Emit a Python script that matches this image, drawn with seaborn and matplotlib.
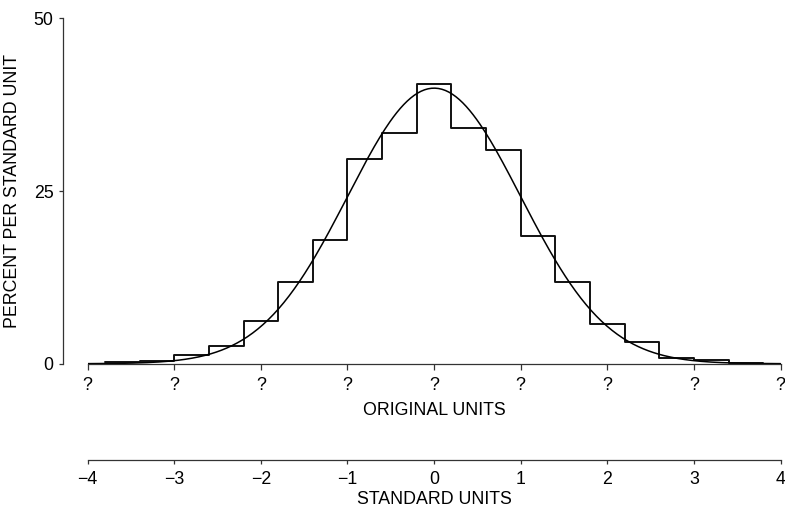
"""
Normal approximation to a histogram, drawn on two scales:
original units (unknown, shown as ?) and standard units.
"""
import numpy as np
import matplotlib
matplotlib.use("Agg")
import matplotlib.pyplot as plt
import seaborn as sns

sns.set_theme(style="white")
plt.rcParams["font.family"] = ["Liberation Sans", "DejaVu Sans"]
plt.rcParams["text.color"] = "black"
plt.rcParams["axes.labelcolor"] = "black"
plt.rcParams["xtick.color"] = "black"
plt.rcParams["ytick.color"] = "black"

FS = 12.8

# ---------- data ----------
bin_edges = [-3.8, -3.4, -3.0, -2.6, -2.2, -1.8, -1.4, -1.0, -0.6, -0.2,
             0.2, 0.6, 1.0, 1.4, 1.8, 2.2, 2.6, 3.0, 3.4, 3.8]
bin_centers = [-3.6, -3.2, -2.8, -2.4, -2.0, -1.6, -1.2, -0.8, -0.4, 0.0,
               0.4, 0.8, 1.2, 1.6, 2.0, 2.4, 2.8, 3.2, 3.6]
percent_per_unit = [0.25, 0.45, 1.3, 2.6, 6.2, 11.8, 17.9, 29.7, 33.4, 40.5,
                    34.1, 30.9, 18.5, 11.8, 5.7, 3.1, 0.8, 0.55, 0.15]

std_ticks = [-4, -3, -2, -1, 0, 1, 2, 3, 4]
orig_labels = ["?"] * len(std_ticks)
y_ticks = [0, 25, 50]

# normal curve (mean 0, sd 1), in percent per standard unit
z = np.linspace(-4, 4, 400)
curve = 100 * np.exp(-z ** 2 / 2) / np.sqrt(2 * np.pi)

# ---------- figure ----------
fig = plt.figure(figsize=(7.85, 5.12), dpi=100)
ax = fig.add_axes([0.1117, 0.2896, 0.8826, 0.6746])

sns.histplot(x=bin_centers, weights=percent_per_unit, bins=bin_edges,
             element="step", fill=False, color="#111111", linewidth=1.4, ax=ax)
sns.lineplot(x=z, y=curve, color="black", linewidth=1.1, ax=ax)

ax.set_xlim(-4, 4)
ax.set_ylim(0, 50)
ax.set_xticks(std_ticks)
ax.set_xticklabels(orig_labels)
ax.set_yticks(y_ticks)
ax.set_xlabel("ORIGINAL UNITS", fontsize=FS, labelpad=6)
ax.set_ylabel("PERCENT PER STANDARD UNIT", fontsize=FS, labelpad=9)

for side in ["top", "right"]:
    ax.spines[side].set_visible(False)
ax.spines["left"].set_position(("outward", 18))
ax.spines["left"].set_bounds(0, 50)
for side in ["left", "bottom"]:
    ax.spines[side].set_color("#333333")
    ax.spines[side].set_linewidth(0.9)
ax.tick_params(axis="x", direction="out", length=4.2, width=0.9,
               color="#333333", pad=5, labelsize=FS, bottom=True)
ax.tick_params(axis="y", direction="out", length=2.7, width=0.9,
               color="#333333", pad=4, labelsize=FS, left=True)
ax.grid(False)

# ---------- second scale: standard units ----------
ax2 = fig.add_axes([0.1117, 0.1016, 0.8826, 0.0001])
ax2.set_xlim(-4, 4)
ax2.set_xticks(std_ticks)
ax2.set_yticks([])
for side in ["top", "right", "left"]:
    ax2.spines[side].set_visible(False)
ax2.spines["bottom"].set_color("#333333")
ax2.spines["bottom"].set_linewidth(0.9)
ax2.tick_params(axis="x", direction="out", length=3, width=0.9,
                color="#333333", pad=5, labelsize=FS, bottom=True)
ax2.set_xlabel("STANDARD UNITS", fontsize=FS, labelpad=2)
ax2.patch.set_visible(False)

fig.savefig("out.png", dpi=100, facecolor="white")
